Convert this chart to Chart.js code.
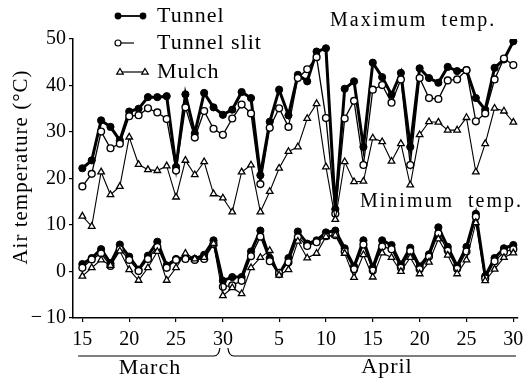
<!DOCTYPE html>
<html><head><meta charset="utf-8">
<script src="https://cdn.jsdelivr.net/npm/chart.js@4/dist/chart.umd.min.js"></script>
<style>html,body{margin:0;padding:0;background:#fff;}#wrap{width:532px;height:381px;}</style>
</head><body><div id="wrap"><canvas id="c" width="532" height="381"></canvas></div>
<script>
// Day-of-month for each observation (15 March .. 30 April)
const dayLabels = [15,16,17,18,19,20,21,22,23,24,25,26,27,28,29,30,31,
  1,2,3,4,5,6,7,8,9,10,11,12,13,14,15,16,17,18,19,20,21,22,23,24,25,26,27,28,29,30];
const tickIndex = [0,5,10,15,21,26,31,36,41,46];
const yTicks = [-10,0,10,20,30,40,50];
const seriesNames = ['Tunnel','Tunnel slit','Mulch'];

const tunnelMax = [22.2,23.9,32.5,31.1,28.2,34.4,35.0,37.5,37.5,37.7,22.5,38.1,29.7,38.4,35.3,33.7,34.8,
  38.6,37.3,20.7,32.2,39.1,33.6,42.3,40.9,47.3,48.0,13.4,39.3,40.9,26.8,44.9,41.8,38.0,42.7,26.8,43.7,41.6,40.6,44.0,43.1,43.3,37.3,34.8,43.8,45.6,49.5];
const slitMax = [18.3,21.0,30.1,26.5,27.5,33.4,33.6,35.1,34.2,32.8,21.7,35.3,28.8,34.5,30.7,29.4,32.9,
  35.9,34.0,18.8,30.9,35.1,31.1,41.6,43.5,46.1,33.0,12.4,32.9,36.7,22.9,39.1,40.1,36.3,41.3,22.9,41.6,37.3,37.1,41.1,41.3,43.3,32.3,34.0,41.3,45.8,44.4];
const mulchMax = [11.9,9.7,21.4,16.5,18.3,28.9,23.0,21.9,21.7,22.7,16.0,23.9,20.8,23.6,16.7,15.8,12.8,
  21.4,22.9,12.8,17.2,22.2,25.8,26.8,32.9,36.1,22.5,11.2,23.6,19.3,19.4,28.7,27.9,23.7,27.5,18.6,29.4,32.2,32.1,30.4,30.4,33.1,21.4,27.5,35.1,34.5,32.1];

const tunnelMin = [1.6,2.9,4.8,1.8,5.8,3.2,0.4,3.4,6.4,1.3,2.7,3.0,2.7,3.6,6.7,-2.0,-1.2,
  -1.2,4.3,8.8,2.9,-0.6,2.9,8.6,6.0,6.7,8.4,8.8,5.0,1.1,6.7,0.8,6.7,5.7,1.5,5.1,1.1,3.7,9.5,5.3,1.2,5.3,12.4,-1.0,2.9,5.0,5.7];
const slitMin = [0.8,2.6,3.9,1.2,4.8,2.5,0.1,2.7,5.3,0.8,2.5,2.7,2.5,2.7,5.9,-3.3,-3.0,
  -2.0,3.3,7.5,2.2,-0.3,2.0,7.4,5.5,6.3,7.6,7.8,4.3,0.5,5.8,0.2,5.4,4.8,0.8,4.4,0.5,3.2,8.2,4.5,0.6,4.3,11.8,-1.5,2.2,4.2,4.8];
const mulchMin = [-1.0,0.8,2.5,1.3,4.4,0.4,-1.9,0.8,4.3,-1.9,0.8,3.9,2.7,3.0,6.0,-5.2,-3.5,
  -4.8,0.8,3.0,4.5,-0.8,0.4,6.5,2.9,3.9,7.5,7.8,3.9,-1.3,3.6,-1.2,4.0,3.0,0.0,3.0,-0.5,2.0,7.0,3.5,-0.5,2.5,10.5,-2.0,0.5,3.0,4.0];

const SERIF = '"Liberation Serif", "DejaVu Serif", serif';
const toXY = arr => arr.map((v,i)=>({x:i,y:v}));

const styles = {
  tunnel: {borderColor:'#000', backgroundColor:'#000', borderWidth:3, pointStyle:'circle', pointRadius:3.6, pointBackgroundColor:'#000', pointBorderColor:'#000', pointBorderWidth:1},
  slit:   {borderColor:'#000', backgroundColor:'#fff', borderWidth:1.3, pointStyle:'circle', pointRadius:3.4, pointBackgroundColor:'#fff', pointBorderColor:'#000', pointBorderWidth:1.4},
  mulch:  {borderColor:'#000', backgroundColor:'#fff', borderWidth:1.1, pointStyle:'triangle', pointRadius:3.8, pointBackgroundColor:'#fff', pointBorderColor:'#000', pointBorderWidth:1.3}
};
function ds(label, arr, st){ return Object.assign({label, data: toXY(arr), tension:0, fill:false}, st); }

const decor = {
  id:'decor',
  afterDraw(chart){
    const ctx = chart.ctx, xs = chart.scales.x;
    ctx.save();
    ctx.fillStyle = '#000'; ctx.strokeStyle = '#000';
    ctx.textBaseline = 'middle';
    // legend
    const rows = [16,43,72];
    ctx.font = '22px ' + SERIF;
    try { ctx.letterSpacing = '1px'; } catch(e){}
    ctx.textAlign = 'left';
    seriesNames.forEach((n,i)=>ctx.fillText(n, 157, rows[i]));
    // tunnel marker
    ctx.beginPath(); ctx.moveTo(118,rows[0]); ctx.lineTo(143,rows[0]); ctx.lineWidth=1.8; ctx.stroke();
    [118,143].forEach(x=>{ctx.beginPath();ctx.arc(x,rows[0],3.4,0,Math.PI*2);ctx.fill();});
    // slit marker
    ctx.lineWidth=1.2;
    ctx.beginPath(); ctx.moveTo(121,rows[1]); ctx.lineTo(134,rows[1]); ctx.stroke();
    ctx.beginPath(); ctx.arc(118,rows[1],3,0,Math.PI*2); ctx.fillStyle='#fff'; ctx.fill(); ctx.stroke();
    ctx.fillStyle='#000';
    // mulch marker
    ctx.beginPath(); ctx.moveTo(120,rows[2]); ctx.lineTo(145,rows[2]); ctx.stroke();
    [120,145].forEach(x=>{ctx.beginPath();ctx.moveTo(x,rows[2]-3.5);ctx.lineTo(x+3.3,rows[2]+2.2);ctx.lineTo(x-3.3,rows[2]+2.2);ctx.closePath();ctx.fillStyle='#fff';ctx.fill();ctx.stroke();});
    ctx.fillStyle='#000';
    // annotations
    ctx.font = '20px ' + SERIF;
    try { ctx.letterSpacing = '2px'; } catch(e){}
    ctx.fillText('Maximum  temp.', 330, 21);
    ctx.fillText('Minimum  temp.', 360, 202);
    // y title
    ctx.save();
    ctx.font = '21px ' + SERIF;
    try { ctx.letterSpacing = '1px'; } catch(e){}
    ctx.translate(21, 167); ctx.rotate(-Math.PI/2);
    ctx.textAlign = 'center';
    ctx.fillText('Air temperature (°C)', 0, 0);
    ctx.restore();
    // month brackets
    const xM30 = xs.getPixelForValue(15);
    const left = xs.getPixelForValue(-0.45), right = chart.chartArea.right - 2;
    ctx.lineWidth = 1.2;
    ctx.beginPath();
    ctx.moveTo(left, 356); ctx.lineTo(xM30 - 9, 356);
    ctx.quadraticCurveTo(xM30 - 4, 356, xM30 - 3, 348);
    ctx.stroke();
    ctx.beginPath();
    ctx.moveTo(xM30 + 5, 348);
    ctx.quadraticCurveTo(xM30 + 6, 356, xM30 + 11, 356);
    ctx.lineTo(right, 356);
    ctx.stroke();
    ctx.font = '22px ' + SERIF;
    try { ctx.letterSpacing = '1px'; } catch(e){}
    ctx.textAlign = 'center';
    ctx.fillText('March', 150, 368);
    ctx.fillText('April', 387, 367);
    ctx.restore();
  }
};

new Chart(document.getElementById('c'), {
  type:'line',
  data:{ datasets:[
    ds('Mulch', mulchMax, styles.mulch),
    ds('Tunnel slit', slitMax, styles.slit),
    ds('Tunnel', tunnelMax, styles.tunnel),
    ds('Mulch', mulchMin, styles.mulch),
    ds('Tunnel slit', slitMin, styles.slit),
    ds('Tunnel', tunnelMin, styles.tunnel)
  ]},
  options:{
    responsive:false, animation:false, devicePixelRatio:1,
    layout:{padding:{top:39,right:14,left:0,bottom:0}},
    plugins:{legend:{display:false}, tooltip:{enabled:false}},
    scales:{
      x:{ type:'linear', min:-1, max:46.5,
        afterBuildTicks: s => { s.ticks = tickIndex.map(v=>({value:v})); },
        afterFit: s => { s.height = 63; },
        ticks:{ color:'#000', font:{family:SERIF, size:20}, padding:6, maxRotation:0, autoSkip:false,
          callback: v => String(dayLabels[v]) },
        grid:{ display:true, drawOnChartArea:false, drawTicks:true, tickLength:4, color:'#000', lineWidth:1.2 },
        border:{ display:true, color:'#000', width:1.5 }
      },
      y:{ type:'linear', min:-10, max:50,
        afterBuildTicks: s => { s.ticks = yTicks.map(v=>({value:v})); },
        afterFit: s => { s.width = 73; },
        ticks:{ color:'#000', font:{family:SERIF, size:20}, padding:3,
          callback: v => v < 0 ? '\u2212\u2009' + Math.abs(v) : String(v) },
        grid:{ display:true, drawOnChartArea:false, drawTicks:true, tickLength:4, color:'#000', lineWidth:1.2 },
        border:{ display:true, color:'#000', width:1.5 }
      }
    }
  },
  plugins:[decor]
});
</script>
</body></html>
